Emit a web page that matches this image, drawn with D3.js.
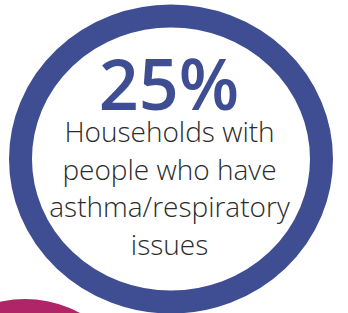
<!DOCTYPE html>
<html>
<head>
<meta charset="utf-8" />
<script src="https://d3js.org/d3.v7.min.js"></script>
<style>
  body { margin: 0; background: #fff; }
  .big { font-family: "Open Sans", "Noto Sans", sans-serif; font-weight: 600; }
  .lbl { font-family: "Open Sans", "Noto Sans", sans-serif; font-weight: 300; }
</style>
</head>
<body>
<svg width="348" height="313"></svg>
<script>
  // stat shown in the ring
  var stats = [25];
  var labelLines = ["Households with", "people who have", "asthma/respiratory", "issues"];

  var svg = d3.select("svg"),
      width = +svg.attr("width"),
      height = +svg.attr("height");

  var blue = "#3f4e92",
      magenta = "#b02468";

  svg.append("rect")
    .attr("width", "100%")
    .attr("height", "100%")
    .attr("fill", "#fff");

  // neighbouring bubble peeking in at the bottom-left
  svg.append("circle")
    .attr("cx", 25)
    .attr("cy", 414)
    .attr("r", 115)
    .attr("fill", magenta);

  // main ring
  var cx = 171, cy = 159;
  svg.append("ellipse")
    .attr("cx", cx)
    .attr("cy", cy)
    .attr("rx", 150.5)
    .attr("ry", 143)
    .attr("fill", "#fff")
    .attr("stroke", blue)
    .attr("stroke-width", 23);

  var fmt = d3.format(".0f");

  svg.selectAll("text.big")
    .data(stats)
    .enter().append("text")
    .attr("class", "big")
    .attr("x", 169)
    .attr("y", 110)
    .attr("text-anchor", "middle")
    .attr("fill", blue)
    .style("font-size", "70px")
    .text(function(d) { return fmt(d) + "%"; });

  // label lines
  var lineY = d3.scaleLinear().domain([0, 1]).range([142, 179.7]);

  svg.selectAll("text.lbl")
    .data(labelLines)
    .enter().append("text")
    .attr("class", "lbl")
    .attr("x", 169.5)
    .attr("y", function(d, i) { return lineY(i); })
    .attr("text-anchor", "middle")
    .attr("fill", "#2b2b2b")
    .style("font-size", "28px")
    .text(function(d) { return d; });
</script>
</body>
</html>
